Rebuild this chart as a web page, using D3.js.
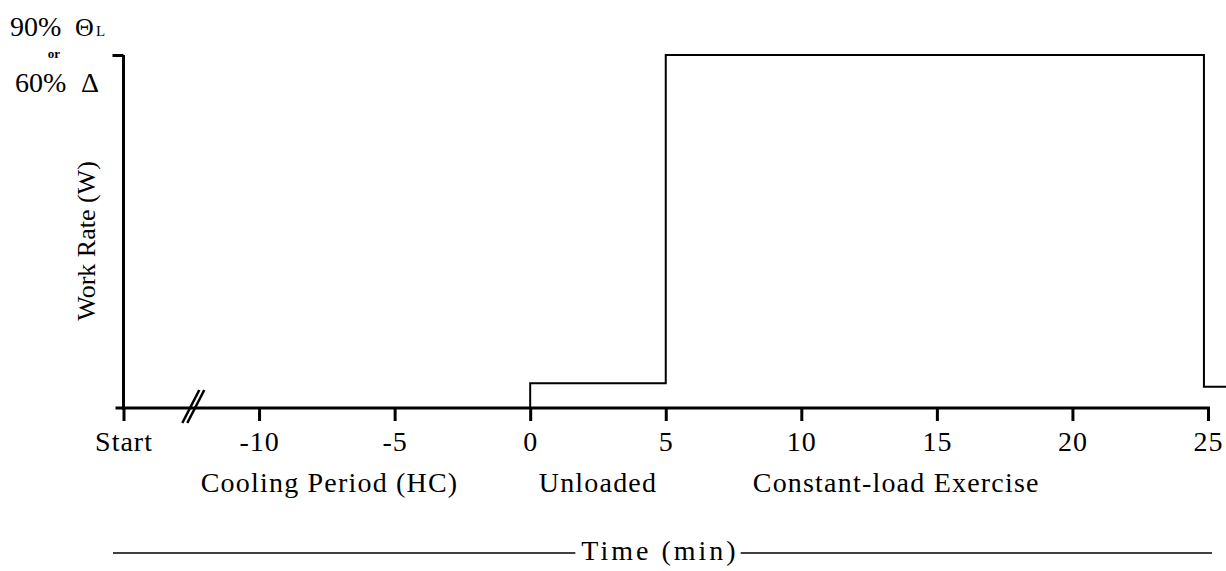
<!DOCTYPE html>
<html>
<head>
<meta charset="utf-8">
<script src="https://cdn.jsdelivr.net/npm/d3@7"></script>
<style>
    body { margin: 0; background: #fff; }
    svg { display: block; font-family: 'Liberation Serif', 'Times New Roman', serif; }
    text { fill: #000; }
</style>
</head>
<body>
<svg></svg>
<script>
// time in minutes, work rate in % of target (90% θL or 60% Δ)
var workTime = [-15, 0, 5, 24.85, 25.7]
var workRate = [0, 7, 100, 6, 6]

var tickValues = [-15, -10, -5, 0, 5, 10, 15, 20, 25]
var tickLabels = ['Start', '-10', '-5', '0', '5', '10', '15', '20', '25']

var phaseNames = ['Cooling Period (HC)', 'Unloaded', 'Constant-load Exercise']
var phaseMid = [-7.4, 2.5, 13.5]

var breakAt = -12.5

var width = 1226
var height = 571

var svg = d3.select('svg').attr('width', width).attr('height', height)

var x = d3.scaleLinear().domain([-15, 25]).range([123.5, 1208])
var y = d3.scaleLinear().domain([0, 100]).range([408, 55])

// x axis
var xAxis = svg.append('g')
    .attr('transform', 'translate(0,' + y(0) + ')')
    .call(d3.axisBottom(x)
        .tickValues(tickValues)
        .tickFormat((d, i) => tickLabels[i])
        .tickSize(13)
        .tickSizeOuter(0)
        .tickPadding(17))

xAxis.select('.domain')
    .attr('d', 'M' + (x(-15) - 8) + ',0H' + (x(25) + 2))
    .attr('stroke', '#000')
    .attr('stroke-width', 3)
xAxis.selectAll('.tick line').attr('stroke', '#000').attr('stroke-width', 3)
xAxis.selectAll('.tick text')
    .attr('font-family', 'Liberation Serif')
    .attr('font-size', 28)
    .attr('letter-spacing', 1)
    .attr('dy', null)
    .attr('y', 43)

// y axis
var yAxis = svg.append('g')
    .attr('transform', 'translate(' + x(-15) + ',0)')
    .call(d3.axisLeft(y)
        .tickValues([100])
        .tickFormat('')
        .tickSize(11)
        .tickSizeOuter(0))

yAxis.select('.domain')
    .attr('d', 'M0,' + y(100) + 'V' + (y(0) + 2))
    .attr('stroke', '#000')
    .attr('stroke-width', 3)
yAxis.selectAll('.tick line').attr('stroke', '#000').attr('stroke-width', 3)

// axis break
;[0, 5].forEach((o) => {
    svg.append('line')
        .attr('x1', x(breakAt) - 9 + o).attr('y1', y(0) + 15)
        .attr('x2', x(breakAt) + 8 + o).attr('y2', y(0) - 18)
        .attr('stroke', '#000')
        .attr('stroke-width', 2.5)
})

// work rate profile
var line = d3.line()
    .x((d, i) => x(workTime[i]))
    .y((d) => y(d))
    .curve(d3.curveStepAfter)

svg.append('path')
    .datum(workRate)
    .attr('d', line)
    .attr('fill', 'none')
    .attr('stroke', '#000')
    .attr('stroke-width', 2)

// phase names
svg.selectAll('.phase')
    .data(phaseNames)
    .enter()
    .append('text')
    .attr('class', 'phase')
    .attr('x', (d, i) => x(phaseMid[i]))
    .attr('y', 492)
    .attr('text-anchor', 'middle')
    .attr('font-size', 28)
    .attr('letter-spacing', 1.2)
    .text((d) => d)

// x title with rule
var title = svg.append('text')
    .attr('x', 660)
    .attr('y', 560)
    .attr('text-anchor', 'middle')
    .attr('font-size', 28)
    .attr('letter-spacing', 3)
    .text('Time (min)')

var bb = title.node().getBBox()
svg.append('line')
    .attr('x1', 113).attr('x2', bb.x - 6)
    .attr('y1', 553).attr('y2', 553)
    .attr('stroke', '#000').attr('stroke-width', 1.5)
svg.append('line')
    .attr('x1', bb.x + bb.width + 2).attr('x2', 1212)
    .attr('y1', 553).attr('y2', 553)
    .attr('stroke', '#000').attr('stroke-width', 1.5)

// y title
svg.append('text')
    .attr('transform', 'translate(95,241) rotate(-90)')
    .attr('text-anchor', 'middle')
    .attr('font-size', 26)
    .text('Work Rate (W)')

// target intensity label
var top1 = svg.append('text').attr('y', 36).attr('font-size', 28)
top1.append('tspan').attr('x', 10).text('90%')
top1.append('tspan').attr('x', 75).attr('font-size', 26).text('Θ')
top1.append('tspan').attr('x', 96).attr('font-size', 15).text('L')

svg.append('text')
    .attr('x', 54).attr('y', 58)
    .attr('text-anchor', 'middle')
    .attr('font-size', 13)
    .attr('font-weight', 'bold')
    .text('or')

var top2 = svg.append('text').attr('y', 92).attr('font-size', 28)
top2.append('tspan').attr('x', 15).text('60%')
top2.append('tspan').attr('x', 81).text('Δ')
</script>
</body>
</html>
